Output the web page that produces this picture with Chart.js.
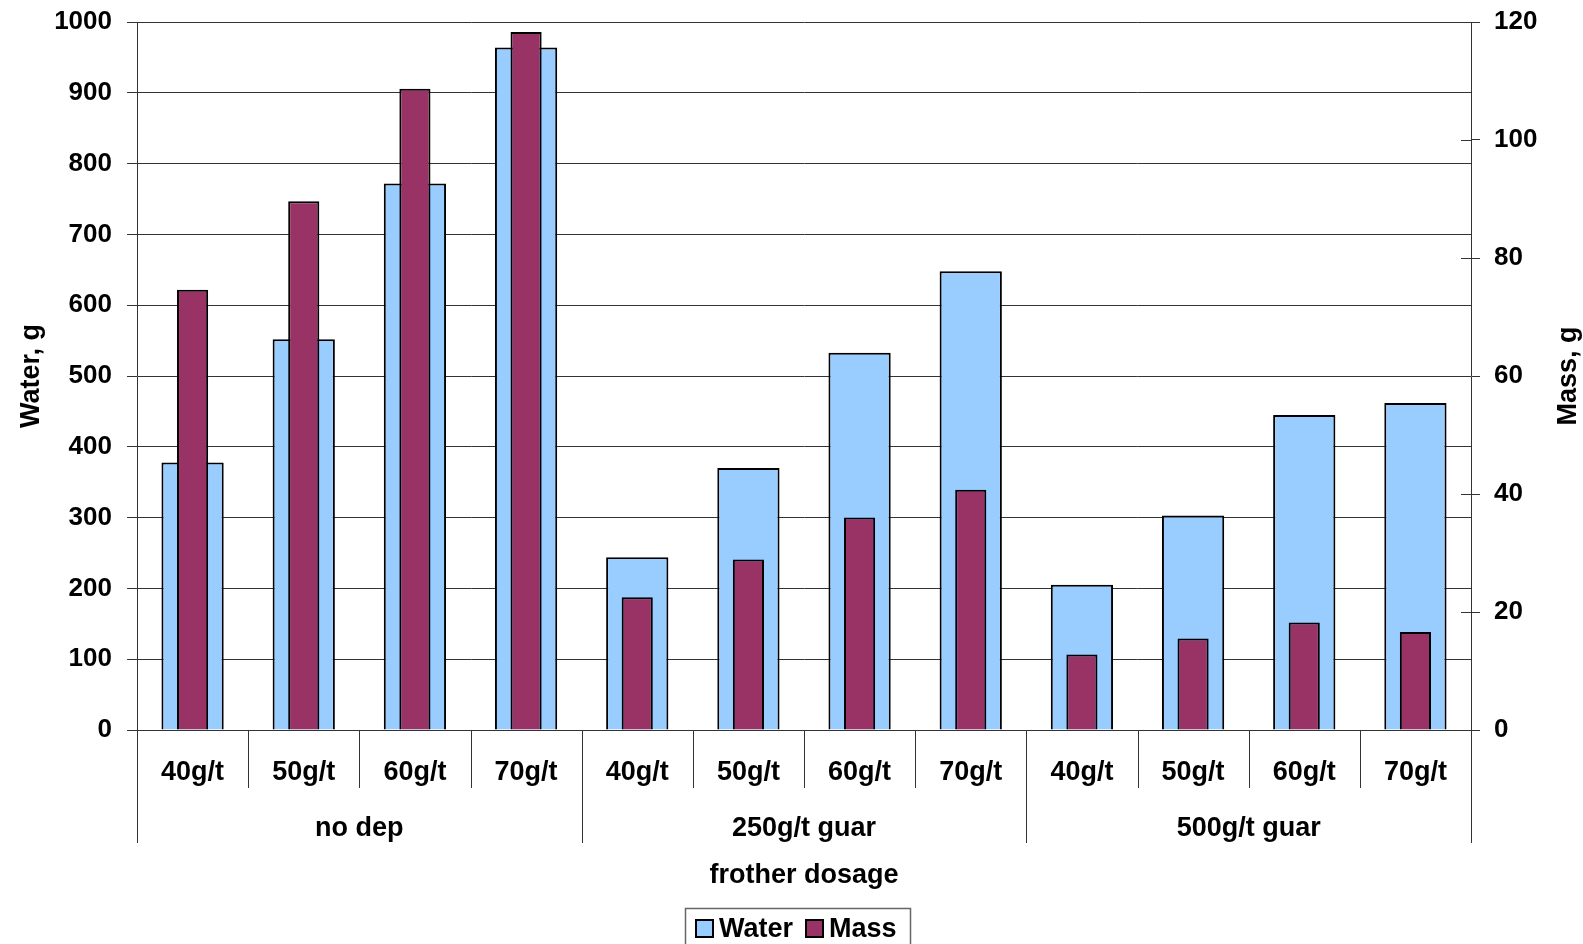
<!DOCTYPE html>
<html>
<head>
<meta charset="utf-8">
<title>Water and mass by frother dosage</title>
<script src="https://cdn.jsdelivr.net/npm/chart.js@4.4.0/dist/chart.umd.min.js"></script>
<style>
  html, body { margin: 0; padding: 0; background: #fff; }
  #chart { display: block; }
</style>
</head>
<body>
<canvas id="chart" width="1583" height="944"></canvas>
<script>
"use strict";

// Frother dosages, repeated inside each depressant group
const dosages = ['40g/t', '50g/t', '60g/t', '70g/t'];
const groups = ['no dep', '250g/t guar', '500g/t guar'];

// Water recovered (g, left axis) and mass recovered (g, right axis)
const waterValues = [378, 552, 772, 964, 244, 370, 533, 648, 205, 303, 445, 462];
const massValues = [74.6, 89.6, 108.7, 118.3, 22.5, 28.9, 36.0, 40.7, 12.8, 15.5, 18.2, 16.6];

// Axis tick values
const waterTicks = [0, 100, 200, 300, 400, 500, 600, 700, 800, 900, 1000];
const massTicks = [0, 20, 40, 60, 80, 100, 120];

const labels = groups.flatMap(() => dosages);
const FONT = '"Liberation Sans", Arial, Helvetica, sans-serif';
const LINE = '#333333';

// Draws the two-level category axis, the right axis title and the boxed legend
const decorPlugin = {
    id: 'decor',
    afterDraw(chart) {
        const { ctx, chartArea: area, scales: { x, y1 } } = chart;
        const half = (x.getPixelForValue(1) - x.getPixelForValue(0)) / 2;
        const base = area.bottom;

        ctx.save();
        ctx.strokeStyle = LINE;
        ctx.lineWidth = 1;

        // separators: short ones between dosages, long ones between groups
        for (let i = 0; i <= labels.length; i++) {
            const px = Math.round(x.getPixelForValue(0) - half + i * 2 * half) + 0.5;
            const long = i % dosages.length === 0;
            ctx.beginPath();
            ctx.moveTo(px, base);
            ctx.lineTo(px, base + (long ? 113 : 58));
            ctx.stroke();
        }

        // group names under the dosage labels
        ctx.fillStyle = '#000';
        ctx.font = 'bold 27px ' + FONT;
        ctx.textAlign = 'center';
        ctx.textBaseline = 'alphabetic';
        groups.forEach((g, gi) => {
            const first = x.getPixelForValue(gi * dosages.length);
            const last = x.getPixelForValue(gi * dosages.length + dosages.length - 1);
            ctx.fillText(g, (first + last) / 2, base + 106);
        });

        // mass axis tick marks cross the axis line
        y1.ticks.forEach(t => {
            const py = Math.round(y1.getPixelForValue(t.value)) + 0.5;
            ctx.beginPath();
            ctx.moveTo(area.right - 10, py);
            ctx.lineTo(area.right, py);
            ctx.stroke();
        });

        // mass axis title, reading bottom to top
        ctx.save();
        ctx.translate(1569, (area.top + area.bottom) / 2);
        ctx.rotate(-Math.PI / 2);
        ctx.textBaseline = 'middle';
        ctx.fillText('Mass, g', 0, 0);
        ctx.restore();

        // legend in a box under the axis title
        ctx.font = 'bold 27px ' + FONT;
        const items = chart.data.datasets.map(ds => ({
            text: ds.label,
            color: ds.backgroundColor,
            w: ctx.measureText(ds.label).width
        }));
        const box = 17, gap = 6, itemGap = 13;
        const total = items.reduce((s, it) => s + box + gap + it.w, 0) + itemGap * (items.length - 1);
        let cx = Math.round(796 - total / 2);
        const baseline = 937;

        ctx.strokeStyle = '#666';
        ctx.lineWidth = 1.5;
        ctx.strokeRect(cx - 11 + 0.5, 908.5, Math.round(total + 24), 60);

        ctx.textAlign = 'left';
        items.forEach(it => {
            ctx.fillStyle = it.color;
            ctx.fillRect(cx, baseline - 17, box, box);
            ctx.strokeStyle = '#000';
            ctx.lineWidth = 2;
            ctx.strokeRect(cx, baseline - 17, box, box);
            ctx.fillStyle = '#000';
            ctx.fillText(it.text, cx + box + gap, baseline);
            cx += box + gap + it.w + itemGap;
        });
        ctx.restore();
    }
};

// value axes: fixed width, and let the layout padding alone set the top of the plot
function fitValueAxis(width) {
    return function(scale) {
        scale.width = width;
        scale.paddingTop = 0;
        scale.paddingBottom = 0;
    };
}

document.addEventListener('DOMContentLoaded', function() {
    const ctx = document.getElementById('chart');

    new Chart(ctx, {
        type: 'bar',
        data: {
            labels: labels,
            datasets: [
                {
                    label: 'Water',
                    data: waterValues,
                    yAxisID: 'y',
                    backgroundColor: '#99CCFF',
                    borderColor: '#000000',
                    borderWidth: 2,
                    barPercentage: 0.56,
                    categoryPercentage: 1,
                    grouped: false,
                    order: 1
                },
                {
                    label: 'Mass',
                    data: massValues,
                    yAxisID: 'y1',
                    backgroundColor: '#993366',
                    borderColor: '#000000',
                    borderWidth: 2,
                    barPercentage: 0.28,
                    categoryPercentage: 1,
                    grouped: false,
                    order: 0
                }
            ]
        },
        options: {
            responsive: false,
            animation: false,
            devicePixelRatio: 1,
            layout: {
                padding: { top: 22, bottom: 52, left: 0, right: 0 }
            },
            plugins: {
                legend: { display: false },
                tooltip: { enabled: false }
            },
            scales: {
                x: {
                    grid: { display: false },
                    border: { display: true, color: LINE, width: 1 },
                    ticks: {
                        color: '#000',
                        font: { family: FONT, size: 27, weight: 'bold' },
                        padding: 18,
                        maxRotation: 0,
                        autoSkip: false
                    },
                    title: {
                        display: true,
                        text: 'frother dosage',
                        color: '#000',
                        font: { family: FONT, size: 27, weight: 'bold' },
                        padding: { top: 0, bottom: 0 }
                    },
                    afterFit: function(scale) { scale.height = 162; }
                },
                y: {
                    position: 'left',
                    min: waterTicks[0],
                    max: waterTicks[waterTicks.length - 1],
                    ticks: {
                        stepSize: waterTicks[1] - waterTicks[0],
                        color: '#000',
                        padding: 15,
                        font: { family: FONT, size: 26, weight: 'bold' },
                        callback: function(value) { return String(value); }
                    },
                    grid: { color: LINE, lineWidth: 1, tickLength: 10 },
                    border: { color: LINE, width: 1 },
                    title: {
                        display: true,
                        text: 'Water, g',
                        color: '#000',
                        font: { family: FONT, size: 27, weight: 'bold' },
                        padding: { top: 15, bottom: 0 }
                    },
                    afterFit: fitValueAxis(137)
                },
                y1: {
                    position: 'right',
                    min: massTicks[0],
                    max: massTicks[massTicks.length - 1],
                    ticks: {
                        stepSize: massTicks[1] - massTicks[0],
                        color: '#000',
                        padding: 14,
                        font: { family: FONT, size: 26, weight: 'bold' },
                        callback: function(value) { return String(value); }
                    },
                    grid: { drawOnChartArea: false, color: LINE, lineWidth: 1, tickLength: 9 },
                    border: { color: LINE, width: 1 },
                    afterFit: fitValueAxis(112)
                }
            }
        },
        plugins: [decorPlugin]
    });
});
</script>
</body>
</html>
